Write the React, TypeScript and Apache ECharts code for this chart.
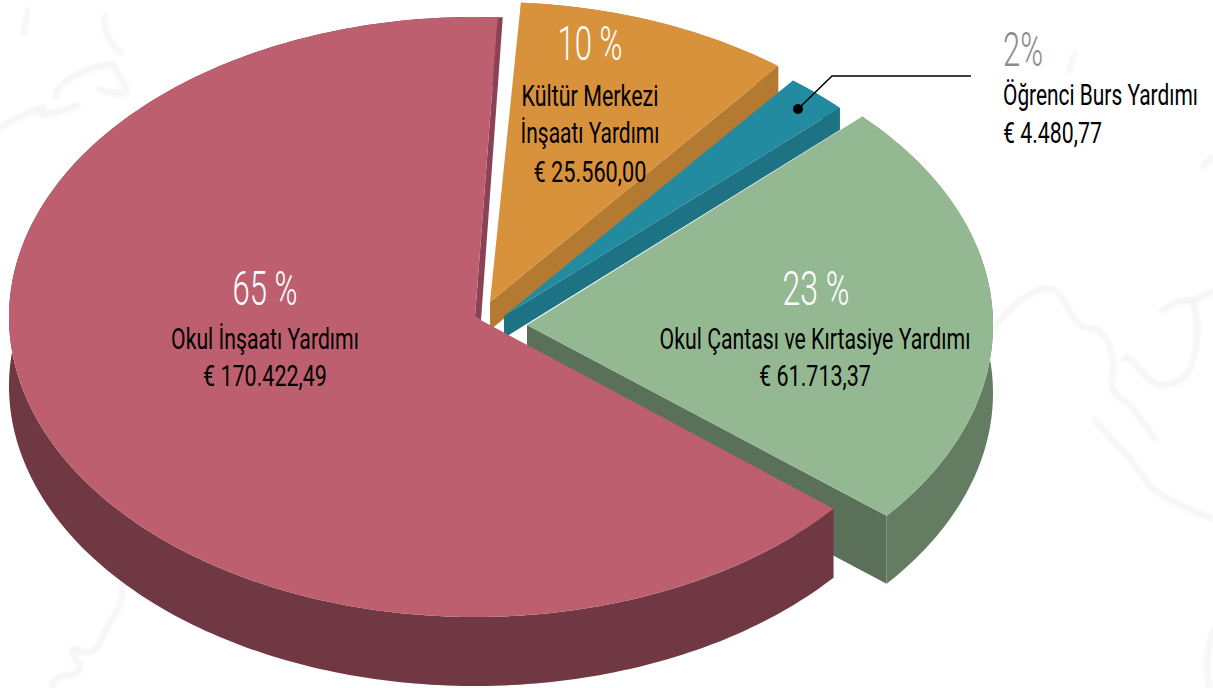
import React, { useEffect, useRef } from "react";
import * as echarts from "echarts";

const categories = ["Kültür Merkezi|İnşaatı Yardımı", "Öğrenci Burs Yardımı", "Okul Çantası ve Kırtasiye Yardımı", "Okul İnşaatı Yardımı"];
const shares = [10, 2, 23, 65];
const percentLabels = ["10 %", "2%", "23 %", "65 %"];
const amountLabels = ["€ 25.560,00", "€ 4.480,77", "€ 61.713,37", "€ 170.422,49"];

// geometry and style of the exploded, tilted pie
const RX = 466, RY = 300, START = 86.7;
const apexes = [[490, 302], [504, 316], [527, 325], [475, 317]];
const depths = [28, 22, 68, 69];
const anglePads = [[-0.5, -1.1], [1, -0.4], [0.5, 0.2], [-0.4, -0.5]];
const faceColors = ["#D9923C", "#228B9F", "#94B992", "#BE5F70"];
const wallColors = ["#B57A31", "#1D7384", "#647D62", "#703843"];
const cutColors = ["#B57A31", "#1D7384", "#5A7059", "#8A4254"];

const FONT = "Roboto";

const bgLines: number[][][] = [
  [[993, 327], [1023, 297], [1053, 288], [1080, 323], [1100, 330], [1113, 357], [1113, 387], [1133, 407], [1157, 440]],
  [[1093, 417], [1130, 457], [1157, 490], [1213, 517]],
  [[1123, 360], [1127, 355], [1160, 383], [1190, 367], [1192, 300], [1160, 310]],
  [[1213, 290], [1190, 300]],
  [[1213, 627], [1207, 660], [1210, 688]],
  [[0, 128], [10, 120], [43, 106], [42, 113], [80, 103]],
  [[57, 97], [58, 87], [77, 73], [112, 63], [117, 72], [127, 90], [97, 88]],
  [[123, 53], [107, 33], [105, 13]],
  [[28, 7], [23, 33]],
  [[122, 583], [120, 603], [107, 625], [92, 650], [72, 648], [80, 668], [55, 678], [53, 688]],
  [[1075, 50], [1068, 72]],
  [[1201, 166], [1213, 155]],
  [[892, 110], [892, 113]],
];

function arcPoints(cx: number, cy: number, a0: number, a1: number) {
  const pts: number[][] = [];
  const n = Math.max(2, Math.ceil(Math.abs(a0 - a1) / 1));
  for (let i = 0; i <= n; i++) {
    const t = ((a0 + ((a1 - a0) * i) / n) * Math.PI) / 180;
    pts.push([cx + RX * Math.cos(t), cy - RY * Math.sin(t)]);
  }
  return pts;
}

function renderSlice(params: any, api: any) {
  const i = params.dataIndex;
  const total = shares.reduce((a, b) => a + b, 0);
  const before = shares.slice(0, i).reduce((a, b) => a + b, 0);
  const a0 = START - (before / total) * 360 + anglePads[i][0];
  const a1 = START - ((before + api.value(0)) / total) * 360 - anglePads[i][1];
  const [cx, cy] = apexes[i];
  const d = depths[i];
  const arc = arcPoints(cx, cy, a0, a1);
  const lower = arc.map(([x, y]) => [x, y + d]).reverse();
  const children: any[] = [];
  children.push({ type: "polygon", shape: { points: arc.concat(lower) }, style: { fill: wallColors[i] } });
  const end = arc[arc.length - 1];
  if (i < 3) {
    children.push({
      type: "polygon",
      shape: { points: [[cx, cy], end, [end[0], end[1] + d], [cx, cy + d]] },
      style: { fill: cutColors[i] },
    });
  } else {
    children.push({
      type: "polygon",
      shape: { points: [end, [end[0] + 5, end[1]], [cx + 6, cy + 3.5], [cx, cy]] },
      style: { fill: cutColors[i] },
    });
  }
  children.push({ type: "polygon", shape: { points: [[cx, cy], ...arc] }, style: { fill: faceColors[i] } });
  return { type: "group", children };
}

const measureCtx = document.createElement("canvas").getContext("2d")!;

function textEl(text: string, x: number, y: number, size: number, fill: string, align: string, width: number, weight: number) {
  measureCtx.font = `${weight} ${size}px ${FONT}`;
  const scaleX = width / measureCtx.measureText(text).width;
  return {
    type: "text",
    x,
    y,
    scaleX,
    z: 100,
    style: { text, fill, fontSize: size, fontFamily: FONT, fontWeight: weight, align, verticalAlign: "middle", textAlign: align, textVerticalAlign: "middle" },
  };
}

const NAME_SIZE = 29;
const PCT_SIZE = 49;
const NW = 400;
const PW = 300;

const [orangeA, orangeB] = categories[0].split("|");
const labels = [
  textEl(percentLabels[0], 590, 43, PCT_SIZE, "#ffffff", "center", 65, PW),
  textEl(orangeA, 590, 96, NAME_SIZE, "#000", "center", 137, NW),
  textEl(orangeB, 590, 133, NAME_SIZE, "#000", "center", 139, NW),
  textEl(amountLabels[0], 590, 172, NAME_SIZE, "#000", "center", 113, NW),
  textEl(percentLabels[1], 1003, 49, PCT_SIZE, "#8c8c8c", "left", 40, PW),
  textEl(categories[1], 1003, 95, NAME_SIZE, "#000", "left", 195, NW),
  textEl(amountLabels[1], 1003, 133, NAME_SIZE, "#000", "left", 99, NW),
  textEl(percentLabels[2], 816, 288, PCT_SIZE, "#ffffff", "center", 67, PW),
  textEl(categories[2], 815, 339, NAME_SIZE, "#000", "center", 311, NW),
  textEl(amountLabels[2], 815, 376, NAME_SIZE, "#000", "center", 112, NW),
  textEl(percentLabels[3], 265, 288, PCT_SIZE, "#ffffff", "center", 65, PW),
  textEl(categories[3], 265, 339, NAME_SIZE, "#000", "center", 188, NW),
  textEl(amountLabels[3], 265, 376, NAME_SIZE, "#000", "center", 124, NW),
];

export default function App() {
  const ref = useRef<HTMLDivElement>(null);
  useEffect(() => {
    const chart = echarts.init(ref.current!, null, { renderer: "svg" });
    chart.setOption({
      animation: false,
      backgroundColor: "#ffffff",
      series: [
        {
          type: "custom",
          coordinateSystem: "none",
          renderItem: renderSlice,
          data: shares.map((v) => [v]),
          silent: true,
          z: 5,
        },
      ],
      graphic: [
        ...bgLines.map((pts) => ({
          type: "polyline",
          z: 0,
          silent: true,
          shape: { points: pts, smooth: 0.4 },
          style: { stroke: "#f7f7f7", lineWidth: 3, fill: "none", shadowBlur: 4, shadowColor: "#ececec", shadowOffsetY: 2 },
        })),
        {
          type: "polyline",
          z: 90,
          shape: { points: [[798, 109], [832, 76], [971, 76]] },
          style: { stroke: "#000", lineWidth: 1.5, fill: "none" },
        },
        { type: "circle", z: 90, shape: { cx: 798, cy: 109, r: 5 }, style: { fill: "#000" } },
        ...labels,
      ],
    });
    return () => chart.dispose();
  }, []);
  return <div ref={ref} style={{ position: "fixed", left: 0, top: 0, width: 1213, height: 688 }} />;
}
